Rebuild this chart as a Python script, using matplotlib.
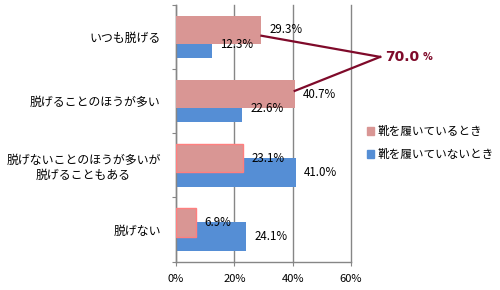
import matplotlib
matplotlib.use("Agg")
import matplotlib.pyplot as plt
import numpy as np
from matplotlib.patches import Patch

plt.rcParams['font.family'] = ['Noto Sans CJK JP', 'DejaVu Sans']

categories = ["いつも脱げる", "脱げることのほうが多い", "脱げないことのほうが多いが\n脱げることもある", "脱げない"]
wearing = [29.3, 40.7, 23.1, 6.9]
not_wearing = [12.3, 22.6, 41.0, 24.1]
series_names = ["靴を履いているとき", "靴を履いていないとき"]
xticks = [0, 20, 40, 60]
total_label = "70.0"

pink = "#D99694"
blue = "#558ED5"
grid_c = "#868686"
dark_red = "#7F0A2A"

fig = plt.figure(figsize=(5, 2.9), dpi=100)
ax = fig.add_axes([0.352, 0.098, 0.35, 0.885])

y = np.arange(len(categories))
h = 0.44
off = 0.11
ax.barh(y + off, not_wearing, height=h, color=blue, zorder=2)
edges = ["none", "none", "#FF7F7F", "#FF7F7F"]
ax.barh(y - off, wearing, height=h, color=pink, zorder=3,
        edgecolor=edges, linewidth=1)

for i, v in enumerate(wearing):
    ax.text(v + 2.8, y[i] - off, f"{v:.1f}%", va="center", ha="left", fontsize=8.3, zorder=5)
for i, v in enumerate(not_wearing):
    ax.text(v + 2.8, y[i] + off, f"{v:.1f}%", va="center", ha="left", fontsize=8.3, zorder=5)

ax.set_xlim(0, 60)
ax.set_ylim(3.5, -0.5)
ax.set_xticks(xticks)
ax.set_xticklabels([f"{t}%" for t in xticks], fontsize=8)
ax.set_yticks(np.arange(-0.5, len(categories) + 0.5, 1))
ax.set_yticklabels([])
ax.set_yticks(y, minor=True)
ax.set_yticklabels(categories, minor=True, fontsize=8.6, multialignment="center")
ax.tick_params(axis="y", which="minor", length=0, pad=11)
ax.tick_params(axis="y", which="major", length=3, color=grid_c, direction="out")
ax.tick_params(axis="x", length=3, color=grid_c, direction="out", pad=6)
ax.grid(axis="x", color=grid_c, linewidth=1, zorder=0)
for gl in ax.xaxis.get_gridlines():
    gl.set_clip_on(False)
ax.set_axisbelow(True)
for s in ["top", "right"]:
    ax.spines[s].set_visible(False)
for s in ["left", "bottom"]:
    ax.spines[s].set_color(grid_c)
    ax.spines[s].set_linewidth(1)

# callout
end_x = wearing[0] + wearing[1]
end_y = 0.31
ax.plot([wearing[0], end_x], [-0.02, end_y], color=dark_red, lw=1.6, clip_on=False, zorder=6)
ax.plot([wearing[1], end_x], [0.84, end_y], color=dark_red, lw=1.6, clip_on=False, zorder=6)
t = ax.text(end_x + 1.8, end_y, total_label, color=dark_red, fontsize=10, fontweight="bold",
            va="center", ha="left", clip_on=False, family=["DejaVu Sans"])
ax.annotate("%", xy=(1, 0.5), xycoords=t, xytext=(2, 0), textcoords="offset points",
            color=dark_red, fontsize=7, va="center", ha="left", fontweight="bold",
            family=["DejaVu Sans"])

handles = [Patch(color=pink), Patch(color=blue)]
fig.legend(handles, series_names, loc="upper left", bbox_to_anchor=(0.712, 0.605),
           frameon=False, fontsize=8.4, handlelength=0.6, handleheight=0.6,
           handletextpad=0.3, labelspacing=0.85)

fig.savefig("out.png", dpi=100)
